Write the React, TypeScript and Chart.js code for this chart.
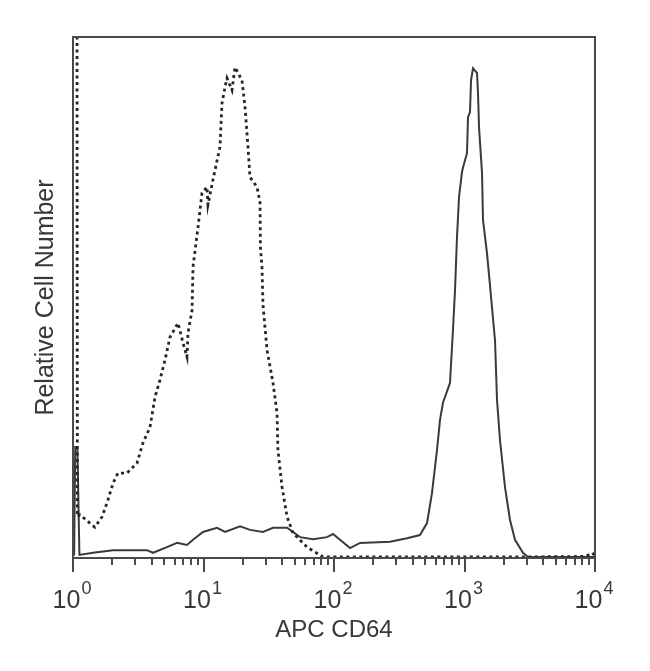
import React, { useEffect, useRef } from "react";
import { Chart, registerables } from "chart.js";

Chart.register(...registerables);

// Dashed histogram (isotype control)
const dashedX = [1.07, 1.08, 1.13, 1.47, 1.67, 1.85, 2.03, 2.21, 2.59, 3.09, 3.44, 3.89, 4.25, 4.64, 5.07, 5.54, 6.38, 6.97, 7.47, 7.61, 8.17, 8.31, 9.08, 9.74, 10.64, 10.82, 11.82, 13.37, 13.86, 14.62, 15.14, 16.53, 17.43, 19.72, 20.8, 21.93, 22.71, 25.7, 27.1, 27.3, 28.06, 28.57, 30.68, 34.1, 36.6, 37.2, 40.0, 43.7, 48.5, 62.1, 82.4, 500, 3000, 8500, 9500, 10000];
const dashedY = [150, 7.9, 8.3, 5.9, 7.9, 11.1, 14.4, 16.3, 16.3, 18.2, 22.1, 25.1, 30.9, 34.2, 38.0, 42.4, 45.1, 41.3, 38.6, 43.2, 47.6, 55.9, 63.5, 70.1, 71.2, 67.8, 72.6, 78.9, 87.3, 90.4, 92.1, 89.8, 94.2, 91.7, 86.6, 78.9, 73.1, 71.2, 68.3, 59.7, 55.9, 48.6, 39.9, 33.6, 27.8, 20.7, 13.6, 7.9, 4.8, 2.1, 0.2, 0.2, 0.2, 0.3, 1.0, 0.5];

// Solid histogram (APC CD64)
const solidX = [1.02, 1.04, 1.08, 1.12, 1.42, 2.03, 3.69, 4.1, 5.25, 6.27, 7.47, 8.31, 9.91, 12.69, 14.62, 19.05, 22.71, 28.57, 34.1, 43.7, 54.9, 69.0, 88.4, 98.3, 111.2, 132.6, 158.2, 268.5, 362.6, 455.6, 516.2, 563.6, 615.5, 649, 684, 774, 816, 846, 876, 908, 957, 975, 1045, 1064, 1102, 1122, 1162, 1247, 1269, 1292, 1362, 1386, 1487, 1567, 1713, 1775, 1871, 2043, 2232, 2438, 2807, 3067, 10000];
const solidY = [0.5, 21.3, 21.3, 0.6, 1.0, 1.5, 1.5, 1.0, 2.1, 2.9, 2.5, 3.5, 5.0, 5.8, 5.0, 6.1, 5.4, 5.0, 5.8, 5.8, 4.0, 3.6, 4.0, 4.6, 3.5, 1.9, 2.9, 3.1, 3.8, 4.4, 6.7, 12.5, 20.7, 26.5, 29.8, 33.6, 43.8, 51.4, 61.6, 69.3, 74.1, 75.0, 77.7, 84.6, 85.6, 91.7, 94.0, 93.1, 89.3, 82.7, 73.9, 64.9, 58.5, 52.4, 41.8, 30.3, 22.6, 13.6, 7.3, 3.5, 1.0, 0.2, 0.2];

const xTickValues = [1, 10, 100, 1000, 10000];
const xTickBase = "10";
const xTickExponents = ["0", "1", "2", "3", "4"];
const minorMultipliers = [2, 3, 4, 5, 6, 7, 8, 9];

const xTitle = "APC CD64";
const yTitle = "Relative Cell Number";

const FONT_FAMILY = "'Liberation Sans', Arial, Helvetica, sans-serif";
const TEXT_COLOR = "#383838";
const LINE_COLOR = "#3a3a3a";
const DASH_COLOR = "#262626";

const framePlugin = {
  id: "frameAndMinorTicks",
  afterDraw(chart: any) {
    const { ctx, chartArea } = chart;
    const xs = chart.scales.x;
    ctx.save();
    ctx.strokeStyle = "#4a4a4a";
    ctx.lineWidth = 2;
    ctx.strokeRect(chartArea.left, chartArea.top, chartArea.right - chartArea.left, chartArea.bottom - chartArea.top);
    // minor ticks
    ctx.beginPath();
    for (let k = 0; k < 4; k++) {
      for (const m of minorMultipliers) {
        const px = Math.round(xs.getPixelForValue(m * Math.pow(10, k)));
        ctx.moveTo(px, chartArea.bottom);
        ctx.lineTo(px, chartArea.bottom + 7);
      }
    }
    ctx.stroke();
    // tick labels: 10 with superscript exponent
    const baseFont = `25px ${FONT_FAMILY}`;
    const expFont = `18px ${FONT_FAMILY}`;
    ctx.fillStyle = TEXT_COLOR;
    ctx.textBaseline = "alphabetic";
    ctx.textAlign = "left";
    xTickValues.forEach((v, i) => {
      const px = xs.getPixelForValue(v);
      ctx.font = baseFont;
      const w1 = ctx.measureText(xTickBase).width;
      ctx.font = expFont;
      const w2 = ctx.measureText(xTickExponents[i]).width;
      const total = w1 + 1 + w2;
      const start = px - total / 2 - 1;
      const baseY = chartArea.bottom + 50;
      ctx.font = baseFont;
      ctx.fillText(xTickBase, start, baseY);
      ctx.font = expFont;
      ctx.fillText(xTickExponents[i], start + w1 + 1, baseY - 14);
    });
    ctx.restore();
  },
};

export default function App() {
  const canvasRef = useRef<HTMLCanvasElement | null>(null);

  useEffect(() => {
    const canvas = canvasRef.current;
    if (!canvas) return;
    const dashedData = dashedX.map((x, i) => ({ x, y: dashedY[i] }));
    const solidData = solidX.map((x, i) => ({ x, y: solidY[i] }));

    const chart = new Chart(canvas, {
      type: "line",
      data: {
        datasets: [
          {
            label: "Isotype",
            data: dashedData,
            borderColor: DASH_COLOR,
            borderWidth: 2.8,
            borderDash: [3, 3.5],
            pointRadius: 0,
            tension: 0,
            fill: false,
          },
          {
            label: "APC CD64",
            data: solidData,
            borderColor: LINE_COLOR,
            borderWidth: 2,
            pointRadius: 0,
            tension: 0,
            fill: false,
          },
        ],
      },
      options: {
        responsive: false,
        animation: false,
        events: [],
        layout: { padding: { left: 0, top: 29, right: 47, bottom: 0 } },
        plugins: {
          legend: { display: false },
          tooltip: { enabled: false },
        },
        scales: {
          x: {
            type: "logarithmic",
            min: 1,
            max: 10000,
            afterBuildTicks: (scale: any) => {
              scale.ticks = xTickValues.map((v) => ({ value: v }));
            },
            afterFit: (scale: any) => {
              scale.height = 105;
            },
            ticks: { display: false },
            grid: {
              display: true,
              drawOnChartArea: false,
              drawTicks: true,
              tickLength: 14,
              color: "#4a4a4a",
              lineWidth: 2,
            },
            border: { display: false },
            title: {
              display: true,
              text: xTitle,
              color: TEXT_COLOR,
              font: { family: FONT_FAMILY, size: 24, lineHeight: 1.2 },
              padding: { top: 0, bottom: 18 },
            },
          },
          y: {
            type: "linear",
            min: 0,
            max: 100,
            afterFit: (scale: any) => {
              scale.width = 65;
            },
            ticks: { display: false },
            grid: { display: false },
            border: { display: false },
            title: {
              display: true,
              text: yTitle,
              color: TEXT_COLOR,
              font: { family: FONT_FAMILY, size: 25, lineHeight: 1.2 },
              padding: { top: 23, bottom: 0 },
            },
          },
        },
      },
      plugins: [framePlugin],
    });
    return () => chart.destroy();
  }, []);

  return (
    <div style={{ width: 634, height: 655 }}>
      <canvas ref={canvasRef} width={634} height={655} style={{ display: "block" }} />
    </div>
  );
}
